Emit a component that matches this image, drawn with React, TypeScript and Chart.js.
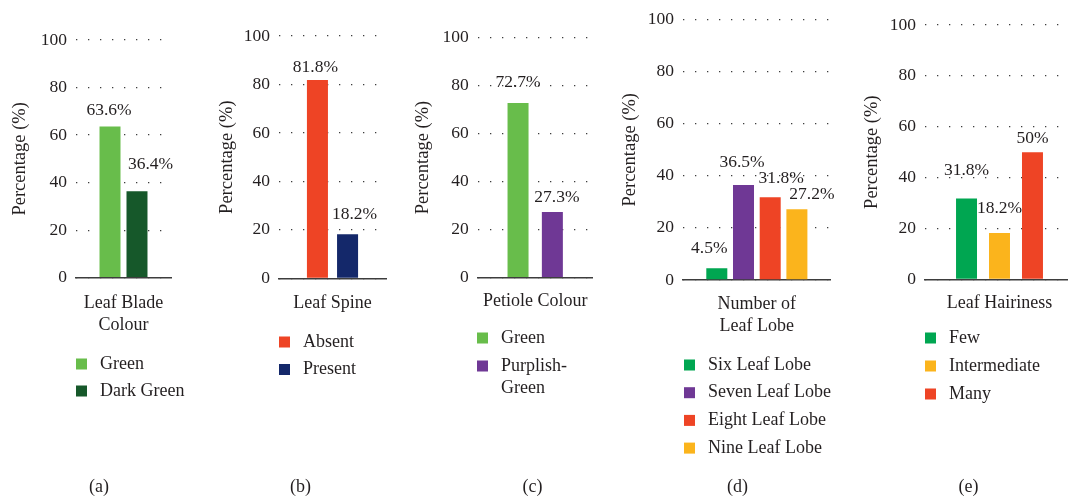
import React, { useEffect, useRef } from "react";
import { Chart, registerables } from "chart.js";

Chart.register(...registerables);

// ---------------- DATA ----------------
const Y_TICKS = [0, 20, 40, 60, 80, 100];
const Y_TITLE = "Percentage (%)";

const bladeCategory = ["Leaf Blade", "Colour"];
const bladeSeries = ["Green", "Dark Green"];
const bladeValues = [63.6, 36.4];

const spineCategory = ["Leaf Spine"];
const spineSeries = ["Absent", "Present"];
const spineValues = [81.8, 18.2];

const petioleCategory = ["Petiole Colour"];
const petioleSeries = ["Green", "Purplish-Green"];
const petioleValues = [72.7, 27.3];

const lobeCategory = ["Number of", "Leaf Lobe"];
const lobeSeries = ["Six Leaf Lobe", "Seven Leaf Lobe", "Eight Leaf Lobe", "Nine Leaf Lobe"];
const lobeValues = [4.5, 36.5, 31.8, 27.2];

const hairCategory = ["Leaf Hairiness"];
const hairSeries = ["Few", "Intermediate", "Many"];
const hairValues = [31.8, 18.2, 50];

const panelLetters = ["(a)", "(b)", "(c)", "(d)", "(e)"];

// ---------------- STYLE ----------------
const FONT = "'Liberation Serif', 'Times New Roman', serif";
const TEXT = "#231f20";
const H = 498;

const C_LGREEN = "#68bd4b";
const C_DGREEN = "#16582a";
const C_RED = "#ee4425";
const C_NAVY = "#14286a";
const C_PURPLE = "#6f3895";
const C_GREEN = "#00a651";
const C_YELLOW = "#fbb41c";

type Layout = {
  left: number; width: number;
  chartLeft: number; chartRight: number; chartTop: number; chartBottom: number;
  titleX: number; catPad: number; cp: number; bp: number;
  legendX: number; legendY: number; legendGap: number; wrap: number;
  letterX: number;
  labelOffsets: number[][];
};

const PANELS = [
  { letter: panelLetters[0], category: bladeCategory, series: bladeSeries, values: bladeValues, colors: [C_LGREEN, C_DGREEN] },
  { letter: panelLetters[1], category: spineCategory, series: spineSeries, values: spineValues, colors: [C_RED, C_NAVY] },
  { letter: panelLetters[2], category: petioleCategory, series: petioleSeries, values: petioleValues, colors: [C_LGREEN, C_PURPLE] },
  { letter: panelLetters[3], category: lobeCategory, series: lobeSeries, values: lobeValues, colors: [C_GREEN, C_PURPLE, C_RED, C_YELLOW] },
  { letter: panelLetters[4], category: hairCategory, series: hairSeries, values: hairValues, colors: [C_GREEN, C_YELLOW, C_RED] },
];

const LAYOUTS: Layout[] = [
  { left: 0, width: 205, chartLeft: 76, chartRight: 171, chartTop: 40, chartBottom: 277.7, titleX: 20.5, catPad: 15, cp: 0.568, bp: 0.778,
    legendX: 76, legendY: 364, legendGap: 27, wrap: 200, letterX: 99, labelOffsets: [[-1, -11.5], [13.5, -22]] },
  { left: 205, width: 200, chartLeft: 279, chartRight: 386, chartTop: 36, chartBottom: 278.3, titleX: 226.7, catPad: 14, cp: 0.563, bp: 0.698,
    legendX: 279, legendY: 342, legendGap: 27.5, wrap: 200, letterX: 300.5, labelOffsets: [[-2, -8.3], [7, -15.7]] },
  { left: 405, width: 205, chartLeft: 477.7, chartRight: 592.7, chartTop: 37.3, chartBottom: 277.7, titleX: 423, catPad: 13, cp: 0.597, bp: 0.612,
    legendX: 477, legendY: 338, legendGap: 28, wrap: 80, letterX: 532.5, labelOffsets: [[0, -16], [4.5, -10.5]] },
  { left: 612, width: 230, chartLeft: 683, chartRight: 830.7, chartTop: 18.5, chartBottom: 280, titleX: 630.5, catPad: 13, cp: 0.723, bp: 0.787,
    legendX: 684, legendY: 365, legendGap: 27.7, wrap: 200, letterX: 737.5, labelOffsets: [[-7.5, -15], [-1.5, -17.7], [11, -14], [15, -10.4]] },
  { left: 845, width: 235, chartLeft: 925, chartRight: 1074, chartTop: 25, chartBottom: 279.3, titleX: 872.5, catPad: 13, cp: 0.664, bp: 0.636,
    legendX: 925, legendY: 338, legendGap: 28, wrap: 200, letterX: 968.5, labelOffsets: [[0, -23.4], [0, -20.3], [0, -9]] },
];

function wrapText(ctx: CanvasRenderingContext2D, text: string, maxW: number): string[] {
  const tokens = text.split(/(?<=[-\s])/);
  const lines: string[] = [];
  let cur = "";
  for (const t of tokens) {
    const test = cur + t;
    if (cur && ctx.measureText(test.trimEnd()).width > maxW) {
      lines.push(cur.trimEnd());
      cur = t;
    } else cur = test;
  }
  if (cur) lines.push(cur.trimEnd());
  return lines;
}

function PanelChart({ idx }: { idx: number }) {
  const ref = useRef<HTMLCanvasElement>(null);
  const p = PANELS[idx];
  const L = LAYOUTS[idx];

  useEffect(() => {
    const canvas = ref.current!;
    const titleSize = 18.5;
    const titleLH = 1.2;
    const titlePadTop = L.titleX - L.left - (titleSize * titleLH) / 2;

    const extras = {
      id: "extras" + idx,
      afterDatasetsDraw(chart: any) {
        const ctx = chart.ctx as CanvasRenderingContext2D;
        ctx.save();
        ctx.fillStyle = TEXT;
        ctx.font = `17.5px ${FONT}`;
        ctx.textAlign = "center";
        ctx.textBaseline = "alphabetic";
        chart.data.datasets.forEach((ds: any, i: number) => {
          const el = chart.getDatasetMeta(i).data[0];
          const off = L.labelOffsets[i] || [0, -8];
          ctx.fillText(`${ds.data[0]}%`, el.x + off[0], el.y + off[1]);
        });
        ctx.restore();
      },
      afterDraw(chart: any) {
        const ctx = chart.ctx as CanvasRenderingContext2D;
        ctx.save();
        ctx.font = `18px ${FONT}`;
        ctx.textBaseline = "middle";
        ctx.textAlign = "left";
        const lx = L.legendX - L.left;
        chart.data.datasets.forEach((ds: any, i: number) => {
          const y = L.legendY + i * L.legendGap;
          ctx.fillStyle = ds.backgroundColor;
          ctx.fillRect(lx, y - 5.5, 11, 11);
          ctx.fillStyle = TEXT;
          const lines = wrapText(ctx, ds.label, L.wrap);
          lines.forEach((ln, k) => ctx.fillText(ln, lx + 24, y + k * 22));
        });
        ctx.textAlign = "center";
        ctx.fillText(p.letter, L.letterX - L.left, 487);
        ctx.restore();
      },
    };

    const chart = new Chart(canvas, {
      type: "bar",
      data: {
        labels: [p.category],
        datasets: p.series.map((s, i) => ({
          label: s,
          data: [p.values[i]],
          backgroundColor: p.colors[i],
          borderWidth: 0,
          categoryPercentage: L.cp,
          barPercentage: L.bp,
        })),
      },
      options: {
        animation: false,
        responsive: false,
        devicePixelRatio: 1,
        layout: {
          padding: { top: L.chartTop, left: 0, bottom: 0, right: L.left + L.width - L.chartRight },
        },
        plugins: {
          legend: { display: false },
          tooltip: { enabled: false },
          title: { display: false },
        },
        scales: {
          x: {
            grid: { display: false, drawTicks: false },
            border: { display: true, color: "#3d3d3d", width: 1.5 },
            ticks: {
              color: TEXT,
              font: { family: FONT, size: 18, lineHeight: 1.22 },
              padding: L.catPad,
              maxRotation: 0,
              autoSkip: false,
            },
            afterFit: (s: any) => { s.height = H - L.chartBottom; },
          },
          y: {
            min: 0,
            max: 100,
            afterBuildTicks: (s: any) => { s.ticks = Y_TICKS.map((v) => ({ value: v })); },
            grid: { color: "#3d3d3d", lineWidth: 1.3, drawTicks: false },
            border: { display: false, dash: [1.3, 10.7] },
            ticks: {
              color: TEXT,
              font: { family: FONT, size: 17.5 },
              padding: 9,
            },
            title: {
              display: true,
              text: Y_TITLE,
              color: TEXT,
              font: { family: FONT, size: titleSize, lineHeight: titleLH },
              padding: { top: titlePadTop, bottom: 0 },
            },
            afterFit: (s: any) => { s.width = L.chartLeft - L.left; },
          },
        },
      },
      plugins: [extras],
    } as any);
    return () => chart.destroy();
  }, []);

  return (
    <canvas
      ref={ref}
      width={L.width}
      height={H}
      style={{ position: "absolute", left: L.left, top: 0, width: L.width, height: H }}
    />
  );
}

export default function App() {
  return (
    <div style={{ position: "absolute", left: 0, top: 0, width: 1068, height: H, overflow: "hidden", background: "#fff" }}>
      {PANELS.map((_, i) => (
        <PanelChart key={i} idx={i} />
      ))}
    </div>
  );
}
